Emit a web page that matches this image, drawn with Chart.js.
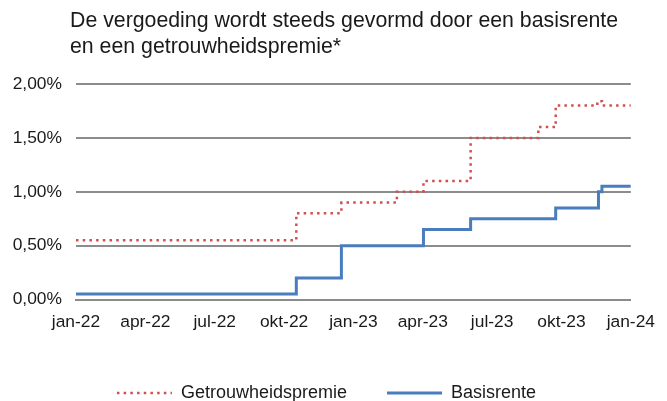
<!DOCTYPE html>
<html>
<head>
<meta charset="utf-8">
<script src="https://cdn.jsdelivr.net/npm/chart.js@4"></script>
<style>
  body { margin: 0; background: #fff; }
  #wrap { position: relative; width: 667px; height: 401px; overflow: hidden; }
  #title {
    position: absolute; left: 70px; top: 7px;
    font: 21.3px "Liberation Sans", Arial, sans-serif;
    line-height: 26px; color: #1a1a1a;
  }
</style>
</head>
<body>
<div id="wrap">
  <canvas id="chart"></canvas>
  <div id="title">De vergoeding wordt steeds gevormd door een basisrente<br>en een getrouwheidspremie*</div>
</div>
<script>
// DATA (x = months since jan-22)
const tickLabels = ["jan-22", "apr-22", "jul-22", "okt-22", "jan-23", "apr-23", "jul-23", "okt-23", "jan-24"];

const basisMonths = [0, 9.53, 11.48, 15.03, 17.07, 20.75, 22.6, 22.75, 24];
const basisRates = [0.05, 0.20, 0.50, 0.65, 0.75, 0.85, 1.00, 1.05, 1.05];

const premieMonths = [0, 9.53, 11.48, 13.88, 15.03, 17.07, 20.0, 20.75, 22.55, 22.75, 24];
const premieRates = [0.55, 0.80, 0.90, 1.00, 1.10, 1.50, 1.60, 1.80, 1.84, 1.80, 1.80];

const yTicks = [0, 0.5, 1, 1.5, 2];

// COLORS
const red = "#d05050";
const blue = "#4a7dbd";
const gridGray = "#8c8c8c";
const font = "'Liberation Sans', Arial, sans-serif";

function toPoints(xs, ys) {
  return xs.map((x, i) => ({ x: x, y: ys[i] }));
}

// nudge the legend a bit to the right, like the original
const legendShift = {
  id: "legendShift",
  afterLayout(chart) {
    if (chart.legend) chart.legend.left += 22;
  }
};

new Chart(document.getElementById("chart"), {
  type: "line",
  data: {
    datasets: [
      {
        label: "Getrouwheidspremie",
        data: toPoints(premieMonths, premieRates),
        borderColor: red,
        backgroundColor: red,
        borderWidth: 2.5,
        borderDash: [2.5, 4.2],
        stepped: true,
        pointRadius: 0
      },
      {
        label: "Basisrente",
        data: toPoints(basisMonths, basisRates),
        borderColor: blue,
        backgroundColor: blue,
        borderWidth: 3,
        stepped: true,
        pointRadius: 0
      }
    ]
  },
  plugins: [legendShift],
  options: {
    responsive: true,
    maintainAspectRatio: false,
    animation: false,
    layout: { padding: { top: 84, right: 36, bottom: -11, left: 0 } },
    plugins: {
      tooltip: { enabled: false },
      legend: {
        position: "bottom",
        labels: {
          usePointStyle: true,
          pointStyle: "line",
          pointStyleWidth: 55,
          padding: 40,
          color: "#1a1a1a",
          font: { family: font, size: 18 },
          // legend line should follow the dataset's dash and width
          generateLabels: chart =>
            Chart.defaults.plugins.legend.labels.generateLabels(chart).map(item => {
              const ds = chart.data.datasets[item.datasetIndex];
              item.lineDash = ds.borderDash || [];
              item.lineWidth = ds.borderWidth;
              return item;
            })
        }
      }
    },
    scales: {
      x: {
        type: "linear",
        min: 0,
        max: 24,
        afterFit: s => { s.height = 44.5; },
        afterBuildTicks: s => { s.ticks = tickLabels.map((t, i) => ({ value: i * 3 })); },
        ticks: {
          callback: v => tickLabels[v / 3],
          color: "#1a1a1a",
          padding: 12,
          maxRotation: 0,
          font: { family: font, size: 17.4 }
        },
        grid: { display: false, drawTicks: false },
        border: { display: true, color: gridGray, width: 2 }
      },
      y: {
        min: 0,
        max: 2,
        afterFit: s => { s.width = 76; },
        afterBuildTicks: s => { s.ticks = yTicks.map(v => ({ value: v })); },
        ticks: {
          callback: v => v.toFixed(2).replace(".", ",") + "%",
          color: "#1a1a1a",
          padding: 14,
          font: { family: font, size: 17.4 }
        },
        grid: { color: gridGray, lineWidth: 2, drawTicks: false },
        border: { display: false }
      }
    }
  }
});
</script>
</body>
</html>
